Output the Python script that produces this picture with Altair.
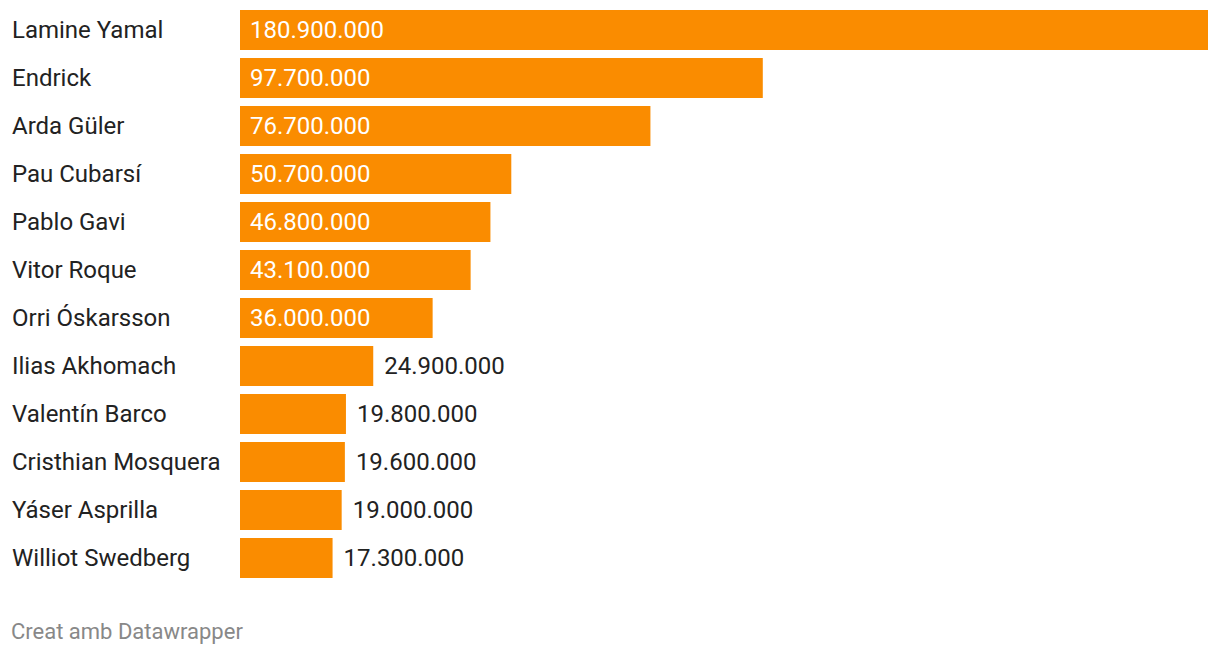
import altair as alt
import pandas as pd

players = ["Lamine Yamal", "Endrick", "Arda Güler", "Pau Cubarsí", "Pablo Gavi",
           "Vitor Roque", "Orri Óskarsson", "Ilias Akhomach", "Valentín Barco",
           "Cristhian Mosquera", "Yáser Asprilla", "Williot Swedberg"]
values = [180900000, 97700000, 76700000, 50700000, 46800000, 43100000,
          36000000, 24900000, 19800000, 19600000, 19000000, 17300000]
footer = "Creat amb Datawrapper"

df = pd.DataFrame({"player": players, "value": values})
df["label"] = [f"{v:,}".replace(",", ".") for v in values]
df["inside"] = [v >= 30000000 for v in values]

FONT = "Roboto"
FS = 24
y = alt.Y("player:N", sort=players, axis=None,
          scale=alt.Scale(paddingInner=8/48, paddingOuter=0))
x = alt.X("value:Q", axis=None, scale=alt.Scale(domain=[0, 180900000], nice=False, zero=True))

base = alt.Chart(df)
bars = base.mark_bar(color="#fa8c00").encode(x=x, y=y)
inside = base.transform_filter("datum.inside").mark_text(
    align="left", baseline="middle", font=FONT, fontSize=FS, color="white", dy=1
).encode(x=alt.value(10), y=y, text="label:N")
outside = base.transform_filter("!datum.inside").mark_text(
    align="left", baseline="middle", font=FONT, fontSize=FS, color="#222222", dx=11, dy=1
).encode(x=x, y=y, text="label:N")
names = base.mark_text(
    align="left", baseline="middle", font=FONT, fontSize=FS, color="#222222", dy=1
).encode(x=alt.value(-228), y=y, text="player:N")
foot = alt.Chart(pd.DataFrame({"t": [footer]})).mark_text(
    align="left", baseline="middle", font=FONT, fontSize=22, color="#888888"
).encode(x=alt.value(-229), y=alt.value(622), text="t:N")

chart = alt.layer(bars, inside, outside, names, foot).properties(
    width=968, height=568,
    background="white",
    autosize=alt.AutoSizeParams(type="none"),
    padding={"left": 232, "top": 2, "right": 4, "bottom": 76},
).configure_view(stroke=None, strokeWidth=0)

chart.save("out.html", embed_options={"renderer": "svg", "actions": False})
